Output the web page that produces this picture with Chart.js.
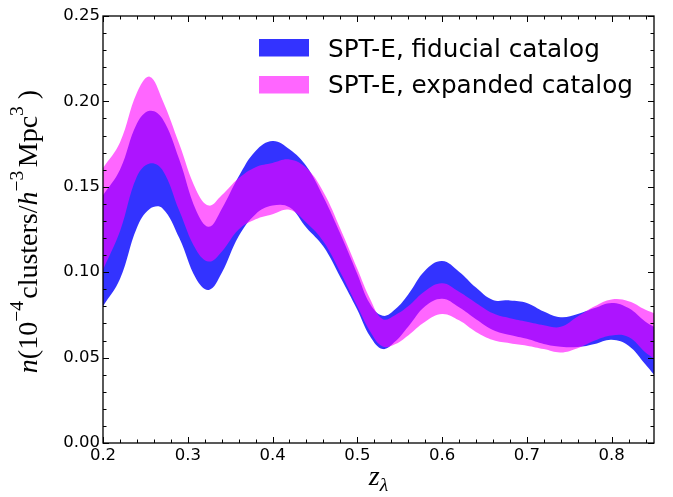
<!DOCTYPE html>
<html><head><meta charset="utf-8">
<script src="https://cdn.jsdelivr.net/npm/chart.js@4.4.0/dist/chart.umd.min.js"></script>
<style>html,body{margin:0;padding:0;background:#fff}#wrap{width:673px;height:497px;position:relative}</style>
</head><body><div id="wrap"><canvas id="c"></canvas></div>
<script>
// ---- data ----
const zValues = [0.20,0.22,0.24,0.255,0.27,0.29,0.31,0.325,0.34,0.36,0.38,0.40,0.42,0.44,0.46,0.48,0.50,0.515,0.53,0.545,0.56,0.58,0.60,0.62,0.64,0.66,0.68,0.70,0.72,0.74,0.76,0.78,0.80,0.82,0.84,0.85];
const fiducialLower = [0.080,0.096,0.126,0.137,0.1375,0.120,0.096,0.0896,0.0995,0.121,0.134,0.139,0.138,0.126,0.115,0.097,0.078,0.0625,0.055,0.0595,0.068,0.080,0.0845,0.0795,0.0725,0.0662,0.0632,0.061,0.058,0.0564,0.0562,0.058,0.0605,0.057,0.046,0.040];
const fiducialUpper = [0.145,0.160,0.187,0.1945,0.190,0.166,0.136,0.1266,0.137,0.156,0.171,0.1768,0.172,0.162,0.144,0.1225,0.099,0.0815,0.0745,0.0785,0.087,0.101,0.1065,0.1003,0.091,0.0837,0.0835,0.082,0.077,0.0736,0.0755,0.079,0.082,0.079,0.071,0.068];
const expandedLower = [0.1015,0.124,0.156,0.1637,0.160,0.136,0.113,0.1062,0.112,0.125,0.131,0.134,0.1365,0.129,0.118,0.100,0.080,0.0655,0.0565,0.058,0.063,0.071,0.0755,0.0718,0.065,0.0603,0.0584,0.057,0.055,0.053,0.0555,0.060,0.063,0.062,0.053,0.0495];
const expandedUpper = [0.161,0.176,0.205,0.2145,0.201,0.175,0.148,0.139,0.145,0.155,0.1615,0.164,0.166,0.161,0.147,0.1255,0.102,0.0845,0.0725,0.075,0.080,0.089,0.0935,0.0885,0.082,0.0759,0.073,0.071,0.069,0.068,0.074,0.080,0.084,0.083,0.078,0.076];
const xTickValues = [0.2,0.3,0.4,0.5,0.6,0.7,0.8];
const xTickLabels = ['0.2','0.3','0.4','0.5','0.6','0.7','0.8'];
const yTickValues = [0,0.05,0.10,0.15,0.20,0.25];
const yTickLabels = ['0.00','0.05','0.10','0.15','0.20','0.25'];
const seriesLabels = ['SPT-E, fiducial catalog','SPT-E, expanded catalog'];
const seriesColors = ['rgba(0,0,255,0.8)','rgba(255,0,255,0.6)'];

const pts = arr => zValues.map((z,i)=>({x:z,y:arr[i]}));
const base = {pointRadius:0,borderWidth:0,borderColor:'rgba(0,0,0,0)',tension:0.4};

const SERIF = '"Liberation Serif", "DejaVu Serif", serif';
function drawMath(ctx, parts, S, x, y, align) {
  const fontFor = p => (p.it ? 'italic ' : '') + (S*(p.sc||1)) + 'px ' + SERIF;
  let W = 0;
  parts.forEach(p => { ctx.font = fontFor(p); p.w = ctx.measureText(p.t).width; W += p.w + (p.gap||0)*S; });
  let cx = align === 'center' ? x - W/2 : x;
  parts.forEach(p => { ctx.font = fontFor(p); ctx.fillText(p.t, cx, y - (p.dy||0)*S); cx += p.w + (p.gap||0)*S; });
}

const deco = {
  id:'deco',
  afterDraw(chart){
    const {ctx, chartArea:a, scales:{x, y}} = chart;
    ctx.save();
    ctx.strokeStyle='#000'; ctx.lineWidth=1;
    const major=6, minor=3.5;
    ctx.beginPath();
    const vt = (v,len)=>{const px=Math.round(x.getPixelForValue(v))+0.5; ctx.moveTo(px,a.bottom); ctx.lineTo(px,a.bottom-len); ctx.moveTo(px,a.top); ctx.lineTo(px,a.top+len);};
    const ht = (v,len)=>{const py=Math.round(y.getPixelForValue(v))+0.5; ctx.moveTo(a.left,py); ctx.lineTo(a.left+len,py); ctx.moveTo(a.right,py); ctx.lineTo(a.right-len,py);};
    for(let k=0;k<=32;k++){const v=0.2+k*0.02; if(k%5) vt(v,minor); else vt(v,major);}
    for(let k=0;k<=25;k++){const v=k*0.01; if(k%5) ht(v,minor); else ht(v,major);}
    ctx.stroke();
    ctx.lineWidth=1.3;
    ctx.strokeRect(a.left, a.top, a.right-a.left, a.bottom-a.top);
    // legend
    ctx.font='24.7px "DejaVu Sans"'; ctx.textBaseline='alphabetic';
    const rows=[{c:seriesColors[0],t:seriesLabels[0],yb:56.5,ry:39},{c:seriesColors[1],t:seriesLabels[1],yb:92.5,ry:76}];
    rows.forEach(r=>{ctx.fillStyle=r.c; ctx.fillRect(259,r.ry,50,17.5); ctx.fillStyle='#000'; ctx.fillText(r.t,328,r.yb);});
    // x label
    ctx.fillStyle='#000';
    drawMath(ctx,[{t:'z',it:true},{t:'λ',it:true,sc:0.7,dy:-0.22}],28,(a.left+a.right)/2,485,'center');
    // y label
    ctx.save();
    ctx.translate(37,(a.top+a.bottom)/2+2);
    ctx.rotate(-Math.PI/2);
    drawMath(ctx,[
      {t:'n',it:true},{t:'(10'},{t:'−4',sc:0.7,dy:0.5,gap:0.08},{t:'clusters/'},{t:'h',it:true},
      {t:'−3',sc:0.7,dy:0.5,gap:0.12},{t:'Mpc'},{t:'3',sc:0.7,dy:0.5,gap:0.25},{t:')'}
    ],28,0,0,'center');
    ctx.restore();
    ctx.restore();
  }
};

Chart.defaults.font.family='"DejaVu Sans"';
Chart.defaults.font.size=16.5;
Chart.defaults.color='#000';

new Chart(document.getElementById('c'),{
  type:'line',
  data:{datasets:[
    Object.assign({label:seriesLabels[1]+' lower',data:pts(expandedLower),fill:false,order:0},base),
    Object.assign({label:seriesLabels[1],data:pts(expandedUpper),fill:{target:0},backgroundColor:seriesColors[1],order:0},base),
    Object.assign({label:seriesLabels[0]+' lower',data:pts(fiducialLower),fill:false,order:1},base),
    Object.assign({label:seriesLabels[0],data:pts(fiducialUpper),fill:{target:2},backgroundColor:seriesColors[0],order:1},base)
  ]},
  options:{
    responsive:true,maintainAspectRatio:false,animation:false,events:[],
    layout:{padding:{left:0,right:19,top:16,bottom:0}},
    plugins:{legend:{display:false},tooltip:{enabled:false}},
    scales:{
      x:{type:'linear',min:0.2,max:0.85,
        grid:{display:false,drawTicks:false},border:{display:false},
        afterBuildTicks:s=>{s.ticks=xTickValues.map(v=>({value:v}));},
        afterFit:s=>{s.height=54;},
        ticks:{padding:3,maxRotation:0,autoSkip:false,callback:(v,i)=>xTickLabels[i]}},
      y:{type:'linear',min:0,max:0.25,
        grid:{display:false,drawTicks:false},border:{display:false},
        afterBuildTicks:s=>{s.ticks=yTickValues.map(v=>({value:v}));},
        afterFit:s=>{s.width=103;},
        ticks:{padding:3,autoSkip:false,callback:(v,i)=>yTickLabels[i]}}
    }
  },
  plugins:[deco]
});
</script></body></html>
